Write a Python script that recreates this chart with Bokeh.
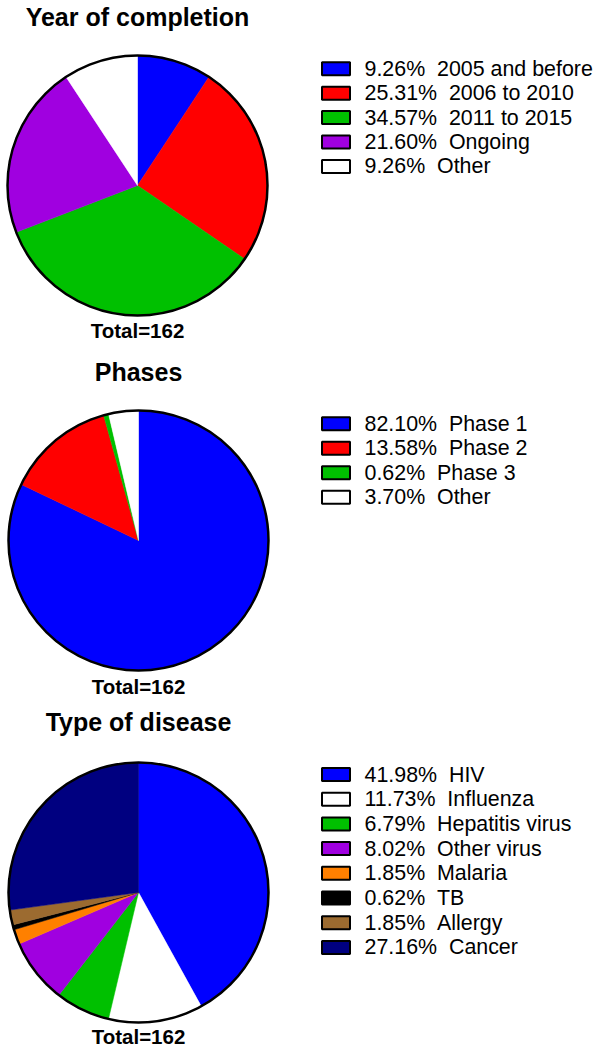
import math
from bokeh.plotting import figure
from bokeh.models import Range1d, ColumnDataSource
from bokeh.core.properties import value
from bokeh.embed import file_html
from bokeh.resources import INLINE

# ---------------- data ----------------
titles = ["Year of completion", "Phases", "Type of disease"]
total_label = "Total=162"

year_labels = ["2005 and before", "2006 to 2010", "2011 to 2015", "Ongoing", "Other"]
year_pct = [9.26, 25.31, 34.57, 21.60, 9.26]
year_colors = ["#0000FF", "#FF0000", "#00C000", "#A000E0", "#FFFFFF"]

phase_labels = ["Phase 1", "Phase 2", "Phase 3", "Other"]
phase_pct = [82.10, 13.58, 0.62, 3.70]
phase_colors = ["#0000FF", "#FF0000", "#00C000", "#FFFFFF"]

disease_labels = ["HIV", "Influenza", "Hepatitis virus", "Other virus", "Malaria", "TB", "Allergy", "Cancer"]
disease_pct = [41.98, 11.73, 6.79, 8.02, 1.85, 0.62, 1.85, 27.16]
disease_colors = ["#0000FF", "#FFFFFF", "#00C000", "#A000E0", "#FF8000", "#000000", "#9C6B30", "#000080"]

# ---------------- layout ----------------
W, H = 600, 1050
FONT = value("Liberation Sans")
NB = "\u00a0"

def Y(ref_y):
    # convert reference-image y (from top) to data y
    return H - ref_y

p = figure(width=W, height=H, output_backend="svg", toolbar_location=None,
           x_range=Range1d(0, W), y_range=Range1d(0, H),
           x_axis_location=None, y_axis_location=None,
           min_border=0, outline_line_color=None,
           background_fill_color="white", border_fill_color="white")
p.grid.visible = False

R = 130
panels = [
    dict(pct=year_pct, labels=year_labels, colors=year_colors,
         cx=137, cy=185, title_mid=16.5, total_mid=329.5, leg_top=68.3, leg_step=24.4),
    dict(pct=phase_pct, labels=phase_labels, colors=phase_colors,
         cx=138, cy=540, title_mid=371, total_mid=685.5, leg_top=423.3, leg_step=24.5),
    dict(pct=disease_pct, labels=disease_labels, colors=disease_colors,
         cx=138, cy=892, title_mid=721, total_mid=1035.5, leg_top=774.0, leg_step=24.7),
]

for title, pn in zip(titles, panels):
    cx = pn["cx"]
    cy = Y(pn["cy"])
    tot = sum(pn["pct"])
    starts, ends = [], []
    acc = 0.0
    for v in pn["pct"]:
        starts.append(math.pi / 2 - 2 * math.pi * acc / tot)
        acc += v
        ends.append(math.pi / 2 - 2 * math.pi * acc / tot)
    src = ColumnDataSource(dict(x=[cx] * len(starts), y=[cy] * len(starts),
                                start=starts, end=ends, color=pn["colors"]))
    p.wedge(x="x", y="y", radius=R, start_angle="start", end_angle="end",
            direction="clock", fill_color="color", line_color="color",
            line_width=0.5, source=src)
    p.circle(x=[cx], y=[cy], radius=R, fill_color=None,
             line_color="black", line_width=2.5)

    # title and total
    p.text(x=[cx], y=[Y(pn["title_mid"])], text=[title], text_font=FONT,
           text_font_style="bold", text_font_size="25px",
           text_align="center", text_baseline="middle", text_color="black")
    p.text(x=[cx], y=[Y(pn["total_mid"])], text=[total_label], text_font=FONT,
           text_font_style="bold", text_font_size="20.5px",
           text_align="center", text_baseline="middle", text_color="black")

    # legend
    n = len(pn["labels"])
    rows = [pn["leg_top"] + i * pn["leg_step"] for i in range(n)]
    lsrc = ColumnDataSource(dict(
        x=[335.5] * n,
        y=[Y(r) for r in rows],
        color=pn["colors"],
        tx=[364] * n,
        ty=[Y(r) for r in rows],
        txt=["%.2f%%%s%s%s" % (v, NB, NB, l) for v, l in zip(pn["pct"], pn["labels"])],
    ))
    p.rect(x="x", y="y", width=28, height=13, fill_color="color",
           line_color="black", line_width=2, source=lsrc)
    p.text(x="tx", y="ty", text="txt", text_font=FONT, text_font_size="21.4px",
           text_align="left", text_baseline="middle", text_color="black",
           source=lsrc)

open("out.html", "w").write(file_html(p, INLINE))
